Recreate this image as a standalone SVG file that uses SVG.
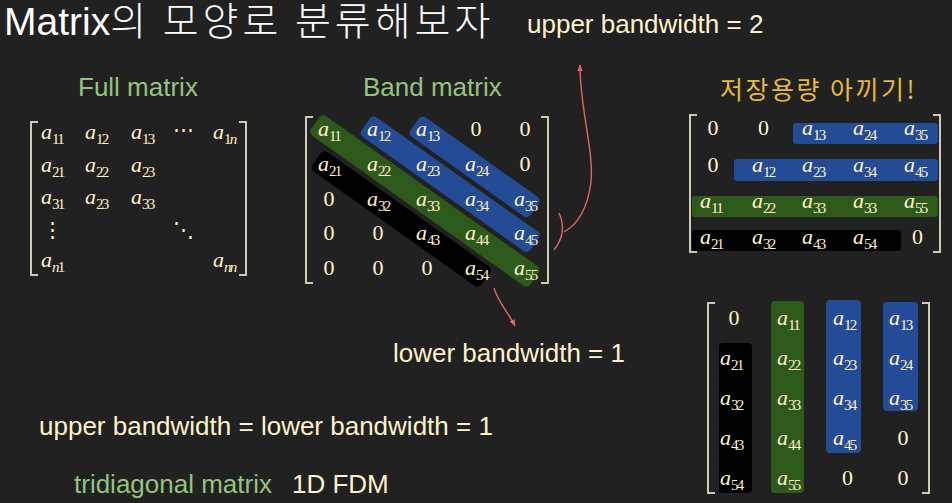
<svg xmlns="http://www.w3.org/2000/svg" width="952" height="503" viewBox="0 0 952 503">
  <style>
    .title { font-family: "Liberation Sans", "Noto Sans CJK KR", sans-serif; font-size: 39px; fill: #ffffff; }
    .ko { font-family: "Noto Sans CJK KR", sans-serif; font-weight: 300; letter-spacing: 4px; }
    .lbl { font-family: "Liberation Sans", "Noto Sans CJK KR", sans-serif; font-size: 26px; fill: #fff2cc; }
    .grn { fill: #93c47d; }
    .gold { font-family: "Noto Sans CJK KR", sans-serif; font-size: 25px; letter-spacing: 2.5px; fill: #e6b83c; }
    .m { font-family: "Liberation Serif", serif; font-size: 22px; fill: #fff2cc; }
    .i { font-style: italic; }
    .s { font-size: 15px; letter-spacing: -1.8px; font-style: normal; }
    .z { text-anchor: middle; }
    .dots { font-family: "DejaVu Serif", serif; font-size: 21px; fill: #fff2cc; }
    .brk { fill: none; stroke: #cfc8b4; stroke-width: 2; }
    .blue { fill: #244c96; }
    .green { fill: #2d5a1b; }
    .black { fill: #000000; }
    .arrow { fill: none; stroke: #e06666; stroke-width: 1.4; }
  </style>
  <defs>
    <marker id="tip" viewBox="0 0 10 10" refX="9" refY="5" markerWidth="7" markerHeight="7" orient="auto" markerUnits="userSpaceOnUse">
      <path d="M0,1 L10,5 L0,9 z" fill="#e06666"/>
    </marker>
  </defs>

  <rect width="952" height="503" fill="#212121"/>

  <!-- headings -->
  <g id="title">
    <text class="title" x="4" y="35">Matrix<tspan class="ko">의 모양로 분류해보자</tspan></text>
  </g>
  <g id="label-upper">
    <text class="lbl" x="527" y="33">upper bandwidth = 2</text>
  </g>
  <g id="label-full">
    <text class="lbl grn" x="78" y="96">Full matrix</text>
  </g>
  <g id="label-band">
    <text class="lbl grn" x="363" y="96">Band matrix</text>
  </g>
  <g id="label-storage">
    <text class="gold" x="720" y="99">저장용량 아끼기!</text>
  </g>
  <g id="label-lower">
    <text class="lbl" x="393" y="362">lower bandwidth = 1</text>
  </g>
  <g id="label-tri">
    <text class="lbl" x="39" y="435">upper bandwidth = lower bandwidth = 1</text>
    <text class="lbl grn" x="74" y="493">tridiagonal matrix</text>
    <text class="lbl" x="292" y="493">1D FDM</text>
  </g>

  <!-- full matrix -->
  <g id="full-matrix" class="m">
    <path class="brk" d="M38,122 H31 V275 H38"/>
    <path class="brk" d="M239,122 H246 V275 H239"/>
    <text x="41" y="139"><tspan class="i">a</tspan><tspan class="s" dy="5">11</tspan></text>
    <text x="85" y="139"><tspan class="i">a</tspan><tspan class="s" dy="5">12</tspan></text>
    <text x="131" y="139"><tspan class="i">a</tspan><tspan class="s" dy="5">13</tspan></text>
    <text class="dots" x="183.5" y="137" text-anchor="middle">⋯</text>
    <text x="213" y="139"><tspan class="i">a</tspan><tspan class="s" dy="5">1<tspan class="i">n</tspan></tspan></text>
    <text x="41" y="171.5"><tspan class="i">a</tspan><tspan class="s" dy="5">21</tspan></text>
    <text x="85" y="171.5"><tspan class="i">a</tspan><tspan class="s" dy="5">22</tspan></text>
    <text x="131" y="171.5"><tspan class="i">a</tspan><tspan class="s" dy="5">23</tspan></text>
    <text x="41" y="204"><tspan class="i">a</tspan><tspan class="s" dy="5">31</tspan></text>
    <text x="85" y="204"><tspan class="i">a</tspan><tspan class="s" dy="5">23</tspan></text>
    <text x="131" y="204"><tspan class="i">a</tspan><tspan class="s" dy="5">33</tspan></text>
    <text class="dots" x="52" y="237" text-anchor="middle">⋮</text>
    <text class="dots" x="183" y="237" text-anchor="middle">⋱</text>
    <text x="41" y="267"><tspan class="i">a</tspan><tspan class="s" dy="5"><tspan class="i">n</tspan>1</tspan></text>
    <text x="213" y="267"><tspan class="i">a</tspan><tspan class="s" dy="5"><tspan class="i">nn</tspan></tspan></text>
  </g>

  <!-- band matrix: diagonal bands, then entries -->
  <g id="band-matrix" class="m">
    <rect class="green" transform="translate(329,133) rotate(35.34)" x="-17" y="-12" width="269" height="24" rx="5"/>
    <rect class="blue" transform="translate(378,133) rotate(35.34)" x="-15" y="-12" width="207" height="24" rx="5"/>
    <rect class="blue" transform="translate(427,133) rotate(35.34)" x="-15" y="-12" width="147" height="24" rx="5"/>
    <rect class="black" transform="translate(329,167.75) rotate(35.34)" x="-15" y="-12" width="207" height="24" rx="5"/>
    <path class="brk" d="M313,117 H306 V283 H313"/>
    <path class="brk" d="M541,117 H548 V283 H541"/>

    <text x="318" y="136"><tspan class="i">a</tspan><tspan class="s" dy="5">11</tspan></text>
    <text x="367" y="136"><tspan class="i">a</tspan><tspan class="s" dy="5">12</tspan></text>
    <text x="416" y="136"><tspan class="i">a</tspan><tspan class="s" dy="5">13</tspan></text>
    <text class="z" x="476" y="136">0</text>
    <text class="z" x="525" y="136">0</text>

    <text x="318" y="170.75"><tspan class="i">a</tspan><tspan class="s" dy="5">21</tspan></text>
    <text x="367" y="170.75"><tspan class="i">a</tspan><tspan class="s" dy="5">22</tspan></text>
    <text x="416" y="170.75"><tspan class="i">a</tspan><tspan class="s" dy="5">23</tspan></text>
    <text x="465" y="170.75"><tspan class="i">a</tspan><tspan class="s" dy="5">24</tspan></text>
    <text class="z" x="525" y="170.75">0</text>

    <text class="z" x="329" y="205.5">0</text>
    <text x="367" y="205.5"><tspan class="i">a</tspan><tspan class="s" dy="5">32</tspan></text>
    <text x="416" y="205.5"><tspan class="i">a</tspan><tspan class="s" dy="5">33</tspan></text>
    <text x="465" y="205.5"><tspan class="i">a</tspan><tspan class="s" dy="5">34</tspan></text>
    <text x="514" y="205.5"><tspan class="i">a</tspan><tspan class="s" dy="5">35</tspan></text>

    <text class="z" x="329" y="240.25">0</text>
    <text class="z" x="378" y="240.25">0</text>
    <text x="416" y="240.25"><tspan class="i">a</tspan><tspan class="s" dy="5">43</tspan></text>
    <text x="465" y="240.25"><tspan class="i">a</tspan><tspan class="s" dy="5">44</tspan></text>
    <text x="514" y="240.25"><tspan class="i">a</tspan><tspan class="s" dy="5">45</tspan></text>

    <text class="z" x="329" y="275">0</text>
    <text class="z" x="378" y="275">0</text>
    <text class="z" x="427" y="275">0</text>
    <text x="465" y="275"><tspan class="i">a</tspan><tspan class="s" dy="5">54</tspan></text>
    <text x="514" y="275"><tspan class="i">a</tspan><tspan class="s" dy="5">55</tspan></text>
  </g>

  <!-- row-packed storage -->
  <g id="row-storage" class="m">
    <rect class="blue" x="793" y="123" width="145" height="21" rx="3"/>
    <rect class="blue" x="734" y="159" width="204" height="22" rx="3"/>
    <rect class="green" x="692" y="196" width="246" height="21" rx="3"/>
    <rect class="black" x="692" y="230" width="209" height="21" rx="3"/>
    <path class="brk" d="M697,115 H690 V252 H697"/>
    <path class="brk" d="M933,115 H940 V252 H933"/>

    <text class="z" x="713" y="135">0</text>
    <text class="z" x="763.5" y="135">0</text>
    <text x="802" y="135"><tspan class="i">a</tspan><tspan class="s" dy="5">13</tspan></text>
    <text x="853" y="135"><tspan class="i">a</tspan><tspan class="s" dy="5">24</tspan></text>
    <text x="904" y="135"><tspan class="i">a</tspan><tspan class="s" dy="5">35</tspan></text>

    <text class="z" x="713" y="171.5">0</text>
    <text x="752" y="171.5"><tspan class="i">a</tspan><tspan class="s" dy="5">12</tspan></text>
    <text x="802" y="171.5"><tspan class="i">a</tspan><tspan class="s" dy="5">23</tspan></text>
    <text x="853" y="171.5"><tspan class="i">a</tspan><tspan class="s" dy="5">34</tspan></text>
    <text x="904" y="171.5"><tspan class="i">a</tspan><tspan class="s" dy="5">45</tspan></text>

    <text x="700" y="207.5"><tspan class="i">a</tspan><tspan class="s" dy="5">11</tspan></text>
    <text x="752" y="207.5"><tspan class="i">a</tspan><tspan class="s" dy="5">22</tspan></text>
    <text x="802" y="207.5"><tspan class="i">a</tspan><tspan class="s" dy="5">33</tspan></text>
    <text x="853" y="207.5"><tspan class="i">a</tspan><tspan class="s" dy="5">33</tspan></text>
    <text x="904" y="207.5"><tspan class="i">a</tspan><tspan class="s" dy="5">55</tspan></text>

    <text x="700" y="243.5"><tspan class="i">a</tspan><tspan class="s" dy="5">21</tspan></text>
    <text x="752" y="243.5"><tspan class="i">a</tspan><tspan class="s" dy="5">32</tspan></text>
    <text x="802" y="243.5"><tspan class="i">a</tspan><tspan class="s" dy="5">43</tspan></text>
    <text x="853" y="243.5"><tspan class="i">a</tspan><tspan class="s" dy="5">54</tspan></text>
    <text class="z" x="917.5" y="243.5">0</text>
  </g>

  <!-- column-packed storage -->
  <g id="column-storage" class="m">
    <rect class="black" x="719" y="343" width="33" height="150" rx="4"/>
    <rect class="green" x="771" y="301" width="33" height="192" rx="4"/>
    <rect class="blue" x="826" y="300" width="35" height="153" rx="4"/>
    <rect class="blue" x="883" y="302" width="35" height="109" rx="4"/>
    <path class="brk" d="M715,303 H708 V493 H715"/>
    <path class="brk" d="M922,303 H929 V493 H922"/>

    <text class="z" x="734" y="325">0</text>
    <text x="720" y="365"><tspan class="i">a</tspan><tspan class="s" dy="5">21</tspan></text>
    <text x="720" y="405"><tspan class="i">a</tspan><tspan class="s" dy="5">32</tspan></text>
    <text x="720" y="445"><tspan class="i">a</tspan><tspan class="s" dy="5">43</tspan></text>
    <text x="720" y="485"><tspan class="i">a</tspan><tspan class="s" dy="5">54</tspan></text>

    <text x="777" y="325"><tspan class="i">a</tspan><tspan class="s" dy="5">11</tspan></text>
    <text x="777" y="365"><tspan class="i">a</tspan><tspan class="s" dy="5">22</tspan></text>
    <text x="777" y="405"><tspan class="i">a</tspan><tspan class="s" dy="5">33</tspan></text>
    <text x="777" y="445"><tspan class="i">a</tspan><tspan class="s" dy="5">44</tspan></text>
    <text x="777" y="485"><tspan class="i">a</tspan><tspan class="s" dy="5">55</tspan></text>

    <text x="833" y="325"><tspan class="i">a</tspan><tspan class="s" dy="5">12</tspan></text>
    <text x="833" y="365"><tspan class="i">a</tspan><tspan class="s" dy="5">23</tspan></text>
    <text x="833" y="405"><tspan class="i">a</tspan><tspan class="s" dy="5">34</tspan></text>
    <text x="833" y="445"><tspan class="i">a</tspan><tspan class="s" dy="5">45</tspan></text>
    <text class="z" x="847.5" y="485">0</text>

    <text x="889" y="325"><tspan class="i">a</tspan><tspan class="s" dy="5">13</tspan></text>
    <text x="889" y="365"><tspan class="i">a</tspan><tspan class="s" dy="5">24</tspan></text>
    <text x="889" y="405"><tspan class="i">a</tspan><tspan class="s" dy="5">35</tspan></text>
    <text class="z" x="903" y="445">0</text>
    <text class="z" x="903" y="485">0</text>
  </g>

  <!-- connectors -->
  <g id="connectors">
    <path class="arrow" d="M559,213 Q568,232 554,250"/>
    <path class="arrow" marker-end="url(#tip)" d="M564,232 C575,226 587,212 591,182 C594,150 580,110 580,65"/>
    <path class="arrow" marker-end="url(#tip)" d="M494,288 C498,302 508,312 515,326"/>
  </g>
</svg>
